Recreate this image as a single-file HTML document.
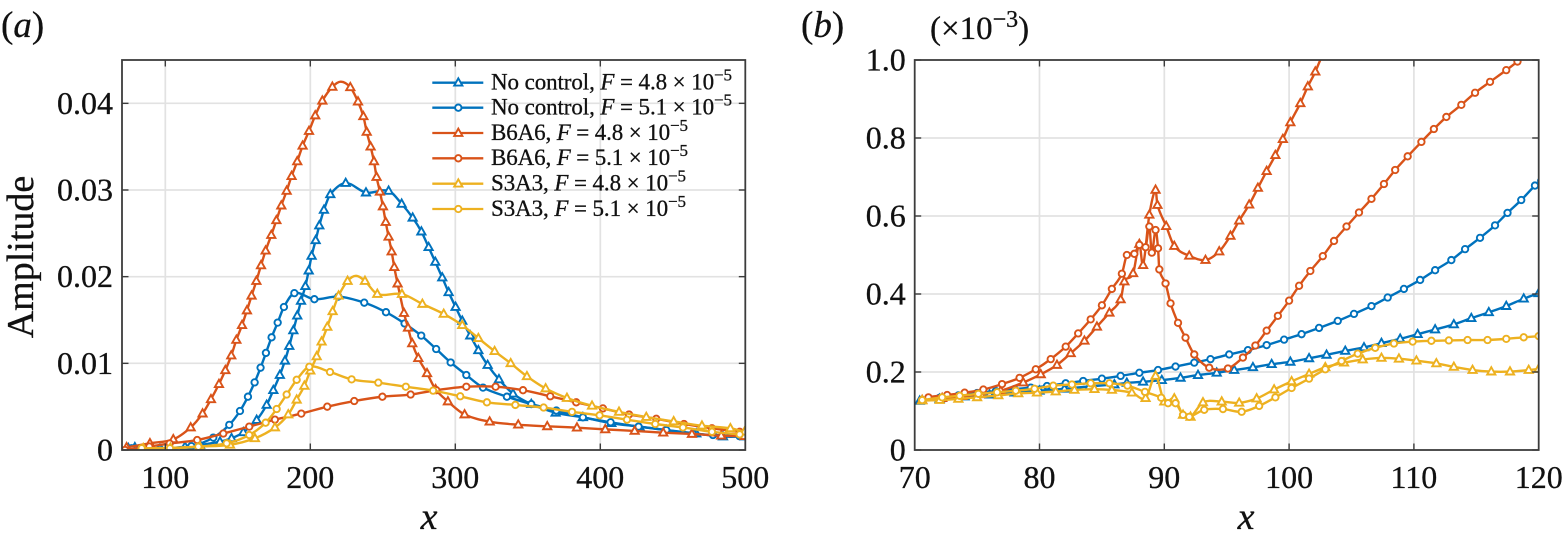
<!DOCTYPE html>
<html lang="en">
<head>
<meta charset="utf-8">
<title>Amplitude versus x</title>
<style>
html,body{margin:0;padding:0;background:#fff;width:1563px;height:541px;overflow:hidden}
svg{display:block;font-family:"Liberation Serif",serif;fill:#111}
svg text{stroke:#111;stroke-width:.3px}
.tick{font-size:32px}
.title{font-size:38px}
.panel{font-size:37px}
.leg{font-size:23px}
</style>
</head>
<body>
<svg id="fig" xmlns="http://www.w3.org/2000/svg" width="1563" height="541" viewBox="0 0 1563 541">
  <defs>
    <clipPath id="clipA"><rect x="122" y="60" width="623.3" height="390"/></clipPath>
    <clipPath id="clipB"><rect x="914.7" y="60" width="624" height="390"/></clipPath>
  </defs>
  <g id="panelA"></g>
  <g id="panelB"></g>

  <text x="1" y="37" class="panel">(<tspan font-style="italic">a</tspan>)</text>
  <text x="801" y="37" class="panel">(<tspan font-style="italic">b</tspan>)</text>
  <text x="930" y="39" font-size="33">(×10<tspan font-size="24" dy="-12">−3</tspan><tspan dy="12">)</tspan></text>
  <text transform="translate(33,257) rotate(-90)" text-anchor="middle" class="title">Amplitude</text>
  <text x="429" y="529" text-anchor="middle" class="title" font-style="italic">x</text>
  <text x="1246" y="529" text-anchor="middle" class="title" font-style="italic">x</text>

  <g id="legend">
    <g>
      <line x1="432.3" x2="483.3" y1="82.7" y2="82.7" stroke="#0072BD" stroke-width="2.3"/>
      <polygon points="458.3,78.3 454.2,85.6 462.4,85.6" fill="#fff" stroke="#0072BD" stroke-width="1.9"/>
      <text x="491" y="89.5" class="leg" textLength="241">No control, <tspan font-style="italic">F</tspan> = 4.8 × 10<tspan font-size="17" dy="-9">−5</tspan></text>
    </g>
    <g>
      <line x1="432.3" x2="483.3" y1="107.7" y2="107.7" stroke="#0072BD" stroke-width="2.3"/>
      <circle cx="458.3" cy="107.7" r="3.2" fill="#fff" stroke="#0072BD" stroke-width="1.9"/>
      <text x="491" y="114.5" class="leg" textLength="241">No control, <tspan font-style="italic">F</tspan> = 5.1 × 10<tspan font-size="17" dy="-9">−5</tspan></text>
    </g>
    <g>
      <line x1="432.3" x2="483.3" y1="133" y2="133" stroke="#D95319" stroke-width="2.3"/>
      <polygon points="458.3,128.6 454.2,135.9 462.4,135.9" fill="#fff" stroke="#D95319" stroke-width="1.9"/>
      <text x="491" y="139.8" class="leg" textLength="197">B6A6, <tspan font-style="italic">F</tspan> = 4.8 × 10<tspan font-size="17" dy="-9">−5</tspan></text>
    </g>
    <g>
      <line x1="432.3" x2="483.3" y1="158.3" y2="158.3" stroke="#D95319" stroke-width="2.3"/>
      <circle cx="458.3" cy="158.3" r="3.2" fill="#fff" stroke="#D95319" stroke-width="1.9"/>
      <text x="491" y="165.1" class="leg" textLength="197">B6A6, <tspan font-style="italic">F</tspan> = 5.1 × 10<tspan font-size="17" dy="-9">−5</tspan></text>
    </g>
    <g>
      <line x1="432.3" x2="483.3" y1="183.7" y2="183.7" stroke="#EDB120" stroke-width="2.3"/>
      <polygon points="458.3,179.3 454.2,186.6 462.4,186.6" fill="#fff" stroke="#EDB120" stroke-width="1.9"/>
      <text x="491" y="190.5" class="leg" textLength="195">S3A3, <tspan font-style="italic">F</tspan> = 4.8 × 10<tspan font-size="17" dy="-9">−5</tspan></text>
    </g>
    <g>
      <line x1="432.3" x2="483.3" y1="209" y2="209" stroke="#EDB120" stroke-width="2.3"/>
      <circle cx="458.3" cy="209" r="3.2" fill="#fff" stroke="#EDB120" stroke-width="1.9"/>
      <text x="491" y="215.8" class="leg" textLength="195">S3A3, <tspan font-style="italic">F</tspan> = 5.1 × 10<tspan font-size="17" dy="-9">−5</tspan></text>
    </g>
  </g>
</svg>

<script>
// Tick values and labels. Amplitudes are stored in units of 1e-3.
const aXTicks = [100, 200, 300, 400, 500];
const aYTicks = [0, 10, 20, 30, 40];
const aYTickLabels = ['0', '0.01', '0.02', '0.03', '0.04'];
const bXTicks = [70, 80, 90, 100, 110, 120];
const bYTicks = [0, 0.2, 0.4, 0.6, 0.8, 1.0];
const bYTickLabels = ['0', '0.2', '0.4', '0.6', '0.8', '1.0'];

// Panel (a)
const aNoCtrl48X = [74.5,79,96.3,113.6,123.9,137.7,145.7,153.8,163,169.9,174.5,179,182.5,185.5,188.3,191,193.6,196.6,198.9,200.9,203.7,206.2,209.4,213.8,224.4,238.4,254,263,270.6,276.6,281.6,286.2,291,295.4,300.2,304.8,310.3,315.9,322.3,330.1,339.8,352.4,369.2,388,407.6,427,445.5,466.2,484.6,499.5];
const aNoCtrl48Y = [0.2,0.3,0.12,0.38,0.58,0.96,1.35,2.04,3.46,5.2,6.9,8.65,10.3,12,13.8,15.5,17.2,18.9,20.7,22.4,24.2,25.9,27.7,29.5,30.8,29.7,29.9,28.4,26.8,25.2,23.4,21.7,19.9,18.2,16.5,14.9,13.2,11.5,9.8,8.15,6.5,5.3,4.3,3.77,3.1,2.7,2.3,1.9,1.55,1.55];
const aNoCtrl51X = [76.8,96.3,118,133.1,144.1,151.5,157,161.6,165.7,169.4,173.3,177.5,181.8,189,202.8,219.3,237.2,252.2,265,276.5,286.8,296.8,307.6,319.1,335.6,352.4,369.7,388,407.1,426.4,445.5,463.9,477.7,496];
const aNoCtrl51Y = [0.2,0.12,0.45,1.43,2.9,4.5,6.15,7.8,9.5,11.2,13,14.7,16.5,18.1,17.4,17.7,17,15.9,14.6,13.2,11.65,10.1,8.65,7.2,6.15,5.3,4.55,3.77,3.2,2.7,2.3,1.9,1.73,1.6];
const aB6A648X = [73.3,89.4,105.5,117.5,125.7,131.5,137,141.4,145.5,149,152.9,156.3,159.5,162.8,166,169.2,173.1,176.6,180,183.7,187.1,191,194.7,199.1,203.4,208.3,215.2,221.1,227.6,232.9,236.6,238.9,241.6,243.9,245.7,248,250.1,252,254,256.1,257.9,260.2,264.6,267.4,270.3,274.5,280.5,286.4,294.9,306.4,323.7,343.4,363.4,383.9,403.4,423.7,443.4,463.2,483.4,499.5];
const aB6A648Y = [0.3,0.77,1.23,2.6,4.2,5.85,7.6,9.2,10.9,12.7,14.4,16.1,17.8,19.5,21.3,23,24.8,26.5,28.2,29.9,31.6,33.3,35.1,36.8,38.6,40.3,41.9,42.5,41.85,40.2,38.5,36.7,35,33.3,31.5,29.8,28.1,26.3,24.6,22.9,21.1,19.2,15.8,14.1,12.3,10.6,8.85,7,5.6,4.1,3.27,2.92,2.73,2.58,2.38,2.2,2,1.85,1.65,1.6];
const aB6A648LineOnly = [221.1];
const aB6A651X = [72.2,89,103,122,140,157.9,175.6,193.8,211.7,230.3,249.7,269.2,286.9,307.6,327.8,346.7,365.5,383.4,401.8,419.8,438.6,457.7,477,496.1];
const aB6A651Y = [0,0.4,0.75,1.15,1.9,2.7,3.5,4.2,5,5.65,6.15,6.4,6.9,7.3,7.3,6.9,6.2,5.5,4.8,4.1,3.6,3,2.5,2.1];
const aS3A348X = [84.8,103.5,123.9,144.6,161.8,175.6,184.8,190.6,195.9,200,204.4,207.8,211.7,215.4,219.5,225.7,231.5,237.7,246.2,263.2,277.3,292,304.8,315.9,327.1,338.2,349.4,362.3,377,394.3,412.9,431.7,450.6,470.1,489.7,499.5];
const aS3A348Y = [0.2,0.25,0.4,0.6,1.35,2.6,4.1,5.8,7.4,9.15,10.8,12.5,14.2,16,17.8,19.5,20.1,19.5,18,18,16.85,15.7,14.4,12.9,11.4,10,8.5,7.1,6,5.1,4.4,3.8,3.3,2.8,2.5,2.1];
const aS3A348LineOnly = [231.5];
const aS3A351X = [83.7,103.2,122.8,142.3,157.9,169.2,176.8,183.7,190.6,199.3,213.6,228.5,246.9,265.9,284.7,303.4,321.8,341.4,360.9,380.5,399.5,418.4,437.9,457,477,496.1];
const aS3A351Y = [0.2,0.2,0.38,0.77,1.73,3.15,4.73,6.4,8.1,9.6,9,8.15,7.77,7.3,6.85,6.2,5.5,5.2,4.9,4.4,4,3.5,3,2.6,2.1,1.8];

// Panel (b)
const bNoCtrl48X = [70.4,72,74,76,78,80,82,84,86,87,88.3,89.8,91.3,92.7,94.2,95.6,97.1,98.6,100.1,101.6,103,104.5,106,107.4,108.9,110.3,111.7,113.2,114.6,116,117.4,118.8,120];
const bNoCtrl48Y = [0.126,0.131,0.137,0.142,0.147,0.152,0.157,0.163,0.168,0.172,0.175,0.179,0.185,0.192,0.198,0.205,0.212,0.22,0.226,0.235,0.244,0.254,0.263,0.274,0.285,0.297,0.309,0.322,0.338,0.353,0.369,0.388,0.402];
const bNoCtrl51X = [70.6,72,73.5,75,76.5,78,79.3,80.6,82.1,83.5,85,86.5,88,89.5,90.9,92.4,93.7,95.2,96.7,98.2,99.6,101,102.4,103.9,105.2,106.6,107.9,109.2,110.5,111.7,113,114.1,115.3,116.5,117.5,118.6,119.7,120.2];
const bNoCtrl51Y = [0.128,0.134,0.14,0.146,0.151,0.156,0.16,0.164,0.171,0.177,0.183,0.19,0.198,0.205,0.214,0.224,0.233,0.245,0.256,0.269,0.283,0.297,0.313,0.331,0.349,0.369,0.391,0.413,0.436,0.461,0.487,0.515,0.544,0.576,0.608,0.641,0.678,0.69];
const bB6A648X = [70.6,72.2,73.8,75.3,76.9,78.7,80.1,81.4,82.5,83.6,84.6,85.6,86.5,86.8,87.5,88,88.3,88.8,89.3,89.45,90.15,90.8,92,93.3,94.4,95.3,96,96.8,97.5,98.2,98.9,99.5,100.1,100.9,101.5,102.1,103];
const bB6A648Y = [0.128,0.133,0.138,0.143,0.152,0.173,0.194,0.218,0.248,0.28,0.316,0.352,0.386,0.432,0.453,0.528,0.474,0.603,0.667,0.628,0.574,0.523,0.498,0.487,0.509,0.549,0.588,0.629,0.672,0.715,0.756,0.797,0.84,0.889,0.932,0.97,1.04];
const bB6A651X = [70.6,71.1,72.6,74,75.5,77,78.4,79.7,80.9,82.1,83.1,84.1,85,85.8,86.6,87,87.6,88,88.5,88.8,89,89.3,89.5,89.6,90.1,90.5,91.1,91.7,92.4,93.6,95.1,96.3,97.3,98.2,99.1,100,100.8,101.7,102.7,103.6,104.6,105.6,106.6,107.6,108.5,109.5,110.6,111.6,112.6,113.8,114.9,116.1,117.4,118.3,118.9];
const bB6A651Y = [0.128,0.135,0.141,0.147,0.155,0.169,0.185,0.207,0.233,0.265,0.299,0.335,0.371,0.413,0.452,0.5,0.503,0.526,0.52,0.573,0.506,0.564,0.517,0.463,0.427,0.376,0.326,0.288,0.245,0.211,0.209,0.237,0.268,0.306,0.344,0.383,0.421,0.459,0.497,0.536,0.573,0.609,0.644,0.682,0.718,0.753,0.79,0.823,0.854,0.885,0.916,0.944,0.974,0.996,1.012];
const bS3A348X = [70.6,72,73.5,75,76.7,78.3,79.8,81.3,82.8,84.4,85.8,87.4,88.5,89.3,90,90.8,91.5,92.1,93.1,94.6,96,97.4,98.8,100.2,101.6,102.9,104.4,105.9,107.4,108.8,110.2,111.8,113.2,114.7,116.2,117.7,119.2,120];
const bS3A348Y = [0.127,0.128,0.131,0.135,0.14,0.145,0.147,0.15,0.154,0.156,0.154,0.147,0.133,0.19,0.124,0.132,0.09,0.085,0.122,0.124,0.121,0.132,0.155,0.176,0.195,0.212,0.224,0.232,0.236,0.234,0.229,0.222,0.213,0.205,0.201,0.201,0.205,0.208];
const bS3A351X = [70.6,72.2,73.6,75.1,76.6,78.1,79.6,81.1,82.6,84.1,85.6,87.05,88.45,89.75,90.3,90.9,91.5,92,93.2,94.7,96.2,97.6,98.9,100.2,101.6,102.9,104.2,105.5,106.9,108.4,109.9,111.4,112.8,114.3,115.9,117.4,118.8,120];
const bS3A351Y = [0.128,0.135,0.139,0.144,0.148,0.152,0.157,0.165,0.168,0.171,0.171,0.165,0.149,0.134,0.12,0.12,0.09,0.085,0.103,0.105,0.098,0.113,0.135,0.159,0.183,0.207,0.228,0.247,0.262,0.273,0.278,0.28,0.281,0.282,0.282,0.285,0.289,0.292];

const NS = 'http://www.w3.org/2000/svg';
const BLUE = '#0072BD', RED = '#D95319', YELLOW = '#EDB120';

function linear(d0, d1, r0, r1) {
  return function (v) { return r0 + (v - d0) * (r1 - r0) / (d1 - d0); };
}
function make(parent, tag) {
  const el = document.createElementNS(NS, tag);
  parent.appendChild(el);
  return el;
}
function smoothPath(px, py) {
  const n = px.length;
  const slope = function (i) {
    const a = Math.max(0, i - 1), b = Math.min(n - 1, i + 1);
    return (py[b] - py[a]) / ((px[b] - px[a]) || 1);
  };
  let d = 'M' + px[0].toFixed(2) + ' ' + py[0].toFixed(2);
  for (let i = 0; i < n - 1; i++) {
    const dx = (px[i + 1] - px[i]) / 3;
    const c1x = px[i] + dx, c1y = py[i] + slope(i) * dx;
    const c2x = px[i + 1] - dx, c2y = py[i + 1] - slope(i + 1) * dx;
    d += 'C' + c1x.toFixed(2) + ' ' + c1y.toFixed(2) + ' ' + c2x.toFixed(2) + ' ' + c2y.toFixed(2) + ' ' + px[i + 1].toFixed(2) + ' ' + py[i + 1].toFixed(2);
  }
  return d;
}
function drawSeries(parent, name, xs, ys, sx, sy, color, marker, lineOnly) {
  const g = make(parent, 'g');
  
  
  const px = xs.map(sx), py = ys.map(sy);
  const line = make(g, 'path');
  
  
  line.setAttribute('d', smoothPath(px, py));
  line.setAttribute('fill', 'none');
  line.setAttribute('stroke', color);
  line.setAttribute('stroke-width', '2.4');
  xs.forEach(function (x, i) {
    if (lineOnly && lineOnly.indexOf(x) >= 0) return;
    let m;
    if (marker === 'tri') {
      m = make(g, 'polygon');
      m.setAttribute('points', [px[i], py[i] - 4.4, px[i] - 4.1, py[i] + 2.9, px[i] + 4.1, py[i] + 2.9].map(function (v) { return v.toFixed(2); }).join(' '));
    } else {
      m = make(g, 'circle');
      m.setAttribute('cx', px[i].toFixed(2));
      m.setAttribute('cy', py[i].toFixed(2));
      m.setAttribute('r', '3.2');
    }
    
    
    m.setAttribute('fill', '#fff');
    m.setAttribute('stroke', color);
    m.setAttribute('stroke-width', '1.9');
  });
}
function drawFrame(parent, panel, L, T, R, B, xTicks, xLabels, yTicks, yLabels, sx, sy) {
  const grid = make(parent, 'g');
  
  
  const seg = function (g, x1, y1, x2, y2, color, w, name) {
    const l = make(g, 'line');
    
    
    l.setAttribute('x1', x1); l.setAttribute('y1', y1);
    l.setAttribute('x2', x2); l.setAttribute('y2', y2);
    l.setAttribute('stroke', color); l.setAttribute('stroke-width', w);
  };
  xTicks.forEach(function (t) {
    if (sx(t) > L + 1 && sx(t) < R - 1) seg(grid, sx(t), T, sx(t), B, '#e2e2e2', 1.7, panel + '-x-gridline');
  });
  yTicks.forEach(function (t) {
    if (sy(t) > T + 1 && sy(t) < B - 1) seg(grid, L, sy(t), R, sy(t), '#e2e2e2', 1.7, panel + '-y-gridline');
  });
  return function () {
    const axes = make(parent, 'g');
    
    
    const INK = '#3c3c3c', LEN = 6.5;
    xTicks.forEach(function (t, i) {
      const x = sx(t);
      seg(axes, x, B, x, B - LEN, INK, 1.4, panel + '-x-tick');
      seg(axes, x, T, x, T + LEN, INK, 1.4, panel + '-x-tick-top');
      const lab = make(axes, 'text');
      
      
      lab.setAttribute('class', 'tick');
      lab.setAttribute('x', x);
      lab.setAttribute('y', 488);
      lab.setAttribute('text-anchor', 'middle');
      lab.textContent = xLabels[i];
    });
    yTicks.forEach(function (t, i) {
      const y = sy(t);
      seg(axes, L, y, L + LEN, y, INK, 1.4, panel + '-y-tick');
      seg(axes, R, y, R - LEN, y, INK, 1.4, panel + '-y-tick-right');
      const lab = make(axes, 'text');
      
      
      lab.setAttribute('class', 'tick');
      lab.setAttribute('x', L - 9);
      lab.setAttribute('y', y + 10.5);
      lab.setAttribute('text-anchor', 'end');
      lab.textContent = yLabels[i];
    });
    const box = make(axes, 'rect');
    
    
    box.setAttribute('x', L); box.setAttribute('y', T);
    box.setAttribute('width', R - L); box.setAttribute('height', B - T);
    box.setAttribute('fill', 'none');
    box.setAttribute('stroke', INK);
    box.setAttribute('stroke-width', '1.8');
  };
}

// Panel (a) render
const ax = linear(70, 500, 121.8, 745.3);
const ay = linear(0, 45, 450, 60);
const panelA = document.getElementById('panelA');
const finishA = drawFrame(panelA, 'panel-a', 122, 60, 745.3, 450, aXTicks, aXTicks.map(String), aYTicks, aYTickLabels, ax, ay);
const plotA = make(panelA, 'g');
plotA.setAttribute('clip-path', 'url(#clipA)');


drawSeries(plotA, 'a-no-control-f48', aNoCtrl48X, aNoCtrl48Y, ax, ay, BLUE, 'tri');
drawSeries(plotA, 'a-no-control-f51', aNoCtrl51X, aNoCtrl51Y, ax, ay, BLUE, 'circle');
drawSeries(plotA, 'a-b6a6-f48', aB6A648X, aB6A648Y, ax, ay, RED, 'tri', aB6A648LineOnly);
drawSeries(plotA, 'a-b6a6-f51', aB6A651X, aB6A651Y, ax, ay, RED, 'circle');
drawSeries(plotA, 'a-s3a3-f48', aS3A348X, aS3A348Y, ax, ay, YELLOW, 'tri', aS3A348LineOnly);
drawSeries(plotA, 'a-s3a3-f51', aS3A351X, aS3A351Y, ax, ay, YELLOW, 'circle');
finishA();

// Panel (b) render
const bx = linear(70, 120, 914.7, 1538.7);
const by = linear(0, 1, 450, 60);
const panelB = document.getElementById('panelB');
const finishB = drawFrame(panelB, 'panel-b', 914.7, 60, 1538.7, 450, bXTicks, bXTicks.map(String), bYTicks, bYTickLabels, bx, by);
const plotB = make(panelB, 'g');
plotB.setAttribute('clip-path', 'url(#clipB)');


drawSeries(plotB, 'b-no-control-f48', bNoCtrl48X, bNoCtrl48Y, bx, by, BLUE, 'tri');
drawSeries(plotB, 'b-no-control-f51', bNoCtrl51X, bNoCtrl51Y, bx, by, BLUE, 'circle');
drawSeries(plotB, 'b-b6a6-f48', bB6A648X, bB6A648Y, bx, by, RED, 'tri');
drawSeries(plotB, 'b-b6a6-f51', bB6A651X, bB6A651Y, bx, by, RED, 'circle');
drawSeries(plotB, 'b-s3a3-f48', bS3A348X, bS3A348Y, bx, by, YELLOW, 'tri');
drawSeries(plotB, 'b-s3a3-f51', bS3A351X, bS3A351Y, bx, by, YELLOW, 'circle');
finishB();
</script>
</body>
</html>
